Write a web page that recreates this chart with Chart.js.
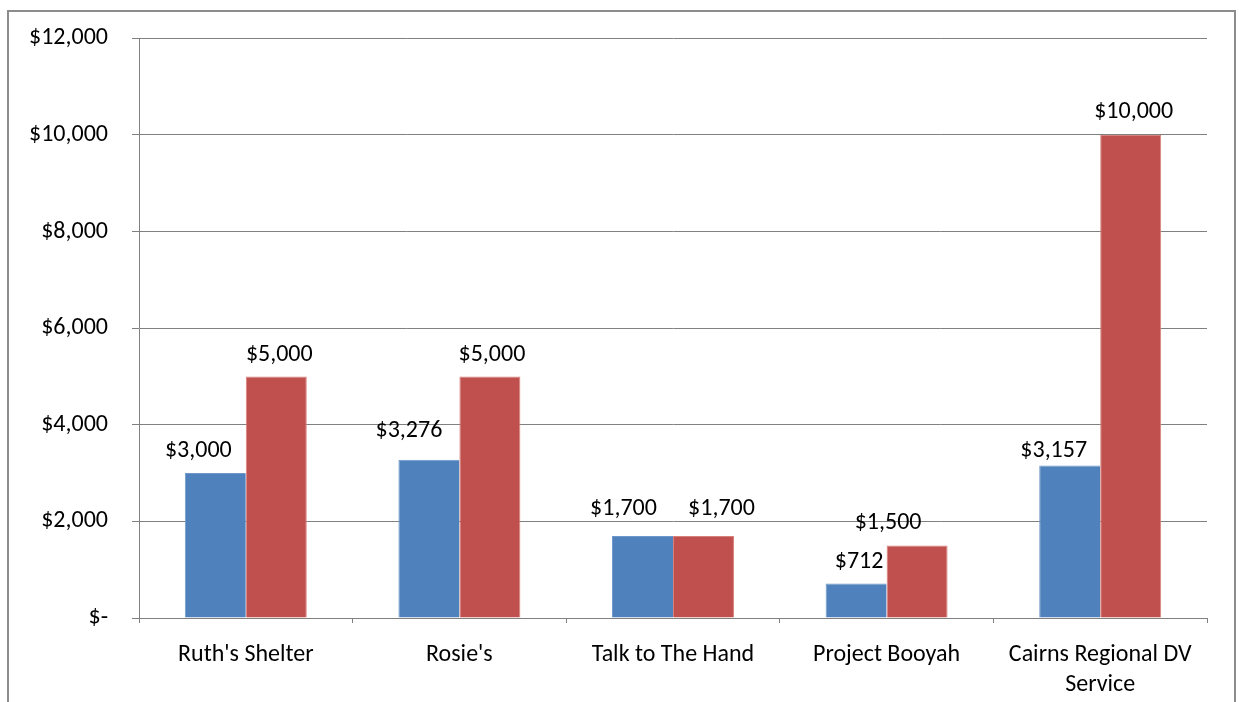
<!DOCTYPE html>
<html>
<head>
<meta charset="utf-8">
<script src="https://cdn.jsdelivr.net/npm/chart.js@4/dist/chart.umd.min.js"></script>
<style>
  html, body { margin: 0; padding: 0; background: #fff; }
  #wrap { width: 1239px; height: 702px; position: relative; }
</style>
</head>
<body>
<div id="wrap"><canvas id="myChart"></canvas></div>
<script>
// data
var categories = ["Ruth's Shelter", "Rosie's", "Talk to The Hand", "Project Booyah", ["Cairns Regional DV", "Service"]];
var seriesA = [3000, 3276, 1700, 712, 3157];
var seriesB = [5000, 5000, 1700, 1500, 10000];
var yTicks = [0, 2000, 4000, 6000, 8000, 10000, 12000];

var FONT = 'Carlito, Lato, sans-serif';
var FSIZE = 24;

function money(v) {
    if (v === 0) return '$-';
    return '$' + v.toLocaleString('en-US');
}

// labels in the original were dragged a bit so they don't overlap, [dx, extra lift]
var labelNudge = [
    [[-17, 0], [-20, 7], [-19, 5], [3, 0], [-16, -7]],
    [[3, 0], [2, 0], [18, 5], [-29, 1], [3, 1]]
];

var valueLabels = {
    id: 'valueLabels',
    afterDatasetsDraw: function (chart) {
        var c = chart.ctx;
        c.save();
        c.font = FSIZE + 'px ' + FONT;
        c.fillStyle = '#000';
        c.textAlign = 'center';
        c.textBaseline = 'alphabetic';
        chart.data.datasets.forEach(function (ds, i) {
            chart.getDatasetMeta(i).data.forEach(function (bar, j) {
                var n = labelNudge[i][j];
                c.fillText(money(ds.data[j]), bar.x + n[0], bar.y - 16 - n[1]);
            });
        });
        c.restore();
    }
};

var frame = {
    id: 'frame',
    beforeDraw: function (chart) {
        var c = chart.ctx;
        c.save();
        c.strokeStyle = '#8c8c8c';
        c.lineWidth = 2;
        c.strokeRect(8, 11, 1227, 720);
        c.restore();
    }
};

var ctx = document.getElementById('myChart').getContext('2d');
var myChart = new Chart(ctx, {
    type: 'bar',
    data: {
        labels: categories,
        datasets: [{
            data: seriesA,
            backgroundColor: '#4f81bd',
            borderColor: '#6f97c9',
            borderWidth: { top: 1, left: 1, right: 0, bottom: 0 }
        }, {
            data: seriesB,
            backgroundColor: '#c0504d',
            borderColor: '#d9807d',
            borderWidth: { top: 1, left: 1, right: 1, bottom: 0 }
        }]
    },
    options: {
        responsive: true,
        maintainAspectRatio: false,
        animation: false,
        layout: { padding: { top: 38, right: 32, left: 0, bottom: 0 } },
        plugins: {
            legend: { display: false },
            tooltip: { enabled: false }
        },
        datasets: {
            bar: { categoryPercentage: 0.571, barPercentage: 1.0 }
        },
        scales: {
            x: {
                afterFit: function (s) { s.height = 84; },
                grid: {
                    display: true,
                    offset: true,
                    drawOnChartArea: false,
                    drawTicks: true,
                    tickLength: 5,
                    color: '#808080'
                },
                border: { color: '#808080', width: 1 },
                ticks: {
                    font: { family: FONT, size: FSIZE, lineHeight: 1.25 },
                    color: '#000',
                    padding: 17,
                    maxRotation: 0,
                    autoSkip: false
                }
            },
            y: {
                min: 0,
                max: 12000,
                afterFit: function (s) { s.width = 139; },
                afterBuildTicks: function (s) {
                    s.ticks = yTicks.map(function (v) { return { value: v }; });
                },
                grid: {
                    color: '#808080',
                    tickLength: 7,
                    lineWidth: 1
                },
                border: { color: '#808080', width: 1 },
                ticks: {
                    font: { family: FONT, size: FSIZE },
                    color: '#000',
                    padding: 24,
                    callback: function (v) { return money(v); }
                }
            }
        }
    },
    plugins: [frame, valueLabels]
});
</script>
</body>
</html>
